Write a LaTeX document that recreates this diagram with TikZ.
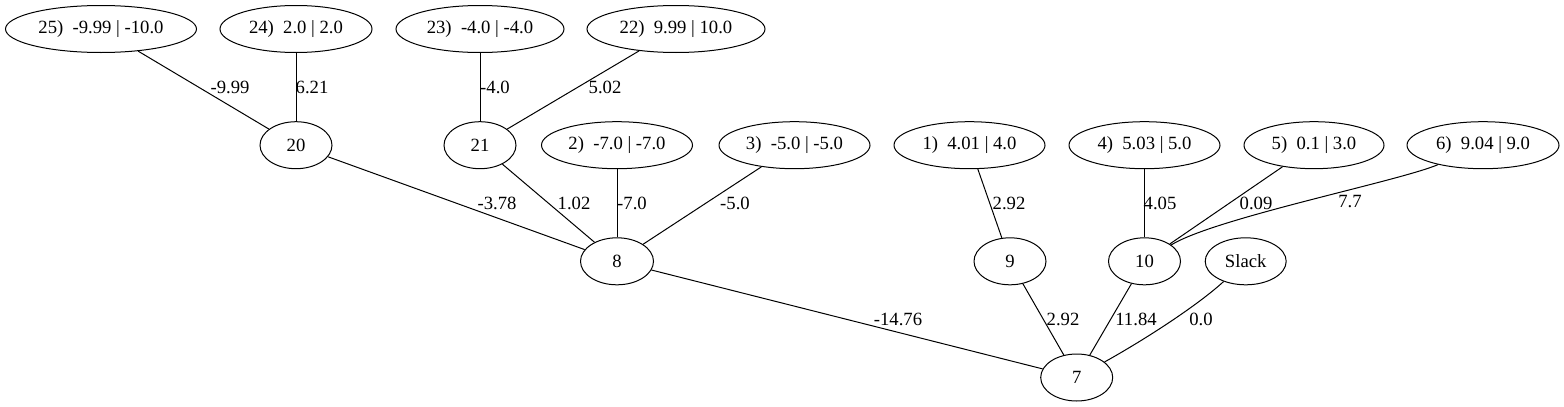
\documentclass[tikz,border=0pt]{standalone}
\usepackage{fontspec}
\setmainfont{Liberation Serif}
\usetikzlibrary{shapes.geometric}
\begin{document}
\begin{tikzpicture}[x=1pt,y=-1pt,
  every node/.style={font=\fontsize{18.67}{22}\selectfont},
  nd/.style={draw, ellipse, line width=1pt, inner sep=0pt, minimum height=47pt},
  lbl/.style={inner sep=0pt},
  edge/.style={line width=1pt}]
\useasboundingbox (0,0) rectangle (1564,407);
% row 1
\node[nd, minimum width=191pt] (n25) at (101,29) {25)\ \ -9.99 | -10.0};
\node[nd, minimum width=152pt] (n24) at (296,29) {24)\ \ 2.0 | 2.0};
\node[nd, minimum width=168pt] (n23) at (480,29) {23)\ \ -4.0 | -4.0};
\node[nd, minimum width=178pt] (n22) at (676,29) {22)\ \ 9.99 | 10.0};
% row 2
\node[nd, minimum width=72pt] (n20) at (296,145.2) {20};
\node[nd, minimum width=72pt] (n21) at (480,145.2) {21};
\node[nd, minimum width=151pt] (n2) at (617,145.2) {2)\ \ -7.0 | -7.0};
\node[nd, minimum width=151pt] (n3) at (794.5,145.2) {3)\ \ -5.0 | -5.0};
\node[nd, minimum width=151pt] (n1) at (969.5,145.2) {1)\ \ 4.01 | 4.0};
\node[nd, minimum width=151pt] (n4) at (1144.5,145.2) {4)\ \ 5.03 | 5.0};
\node[nd, minimum width=140pt] (n5) at (1314,145.2) {5)\ \ 0.1 | 3.0};
\node[nd, minimum width=152pt] (n6) at (1483,145.2) {6)\ \ 9.04 | 9.0};
% row 3
\node[nd, minimum width=73pt] (n8) at (617,261.3) {8};
\node[nd, minimum width=72pt] (n9) at (1010,261.3) {9};
\node[nd, minimum width=72pt] (n10) at (1144.5,261.3) {10};
\node[nd, minimum width=81pt] (slack) at (1245.7,261.3) {Slack};
% row 4
\node[nd, minimum width=72pt] (n7) at (1076.7,377.5) {7};
% edges
\draw[edge] (n25) -- (n20);
\draw[edge] (n24) -- (n20);
\draw[edge] (n23) -- (n21);
\draw[edge] (n22) -- (n21);
\draw[edge] (n20) -- (n8);
\draw[edge] (n21) -- (n8);
\draw[edge] (n2) -- (n8);
\draw[edge] (n3) -- (n8);
\draw[edge] (n1) -- (n9);
\draw[edge] (n4) -- (n10);
\draw[edge] (n5) -- (n10);
\draw[edge] (n6) .. controls (1400,181) and (1215,218) .. (n10);
\draw[edge] (n8) -- (n7);
\draw[edge] (n9) -- (n7);
\draw[edge] (n10) -- (n7);
\draw[edge] (slack) .. controls (1198.3,304.7) and (1147.5,338) .. (n7);
% edge labels
\node[lbl] (l1) at (230,87) {-9.99};
\node[lbl] (l2) at (312,87) {6.21};
\node[lbl] (l3) at (495,87) {-4.0};
\node[lbl] (l4) at (605,87) {5.02};
\node[lbl] (l5) at (497,203) {-3.78};
\node[lbl] (l6) at (574,203) {1.02};
\node[lbl] (l7) at (632,203) {-7.0};
\node[lbl] (l8) at (735,203) {-5.0};
\node[lbl] (l9) at (1009,203) {2.92};
\node[lbl] (l10) at (1160,203) {4.05};
\node[lbl] (l11) at (1256,203) {0.09};
\node[lbl] (l12) at (1350,202) {7.7};
\node[lbl] (l13) at (898,319) {-14.76};
\node[lbl] (l14) at (1063,319) {2.92};
\node[lbl] (l15) at (1136,319) {11.84};
\node[lbl] (l16) at (1201,319) {0.0};
\end{tikzpicture}
\end{document}
